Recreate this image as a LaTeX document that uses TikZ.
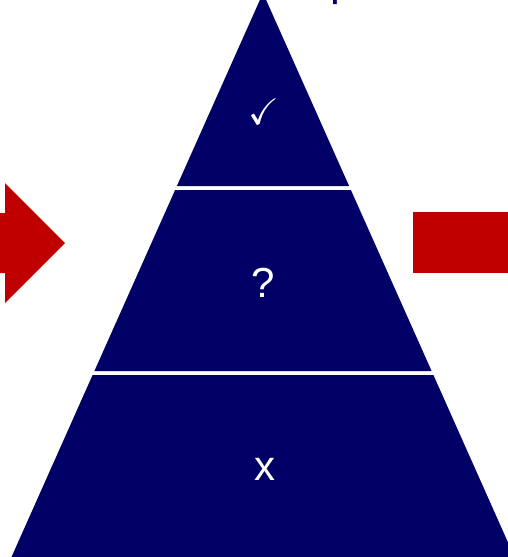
\documentclass[tikz,border=0pt]{standalone}
\usepackage{amssymb}
\usepackage{fontspec}
\setmainfont{Liberation Sans}
\definecolor{navy}{RGB}{0,0,102}
\definecolor{arrowred}{RGB}{192,0,0}
\begin{document}
\begin{tikzpicture}[x=1pt,y=-1pt,
  band/.style={fill=navy},
  redshape/.style={fill=arrowred},
  lbl/.style={text=white,inner sep=0pt,font=\fontsize{42}{42}\selectfont}]
\useasboundingbox (0,0) rectangle (508,557);
\clip (0,0) rectangle (508,557);
% pyramid bands
\fill[band] (263,-7) -- (349.1,186) -- (176.9,186) -- cycle;
\fill[band] (175.1,190) -- (350.9,190) -- (431.6,371) -- (94.4,371) -- cycle;
\fill[band] (92.6,375) -- (433.4,375) -- (514.5,557) -- (11.5,557) -- cycle;
% red arrows
\fill[redshape] (-5,213) -- (5,213) -- (5,183) -- (65,243) -- (5,303) -- (5,273) -- (-5,273) -- cycle;
\fill[redshape] (413,212) rectangle (515,273);
% labels
\node[lbl,font=\fontsize{37}{37}\selectfont] (top) at (264,112) {$\checkmark$};
\node[lbl,anchor=base] (mid) at (263,297) {?};
\node[lbl,anchor=base] (bot) at (265,480) {x};
% cut-off title fragment
\node[anchor=base west,inner sep=0pt,text=navy,font=\fontsize{44}{44}\selectfont] (title) at (330,-4.2) {p};
\end{tikzpicture}
\end{document}
